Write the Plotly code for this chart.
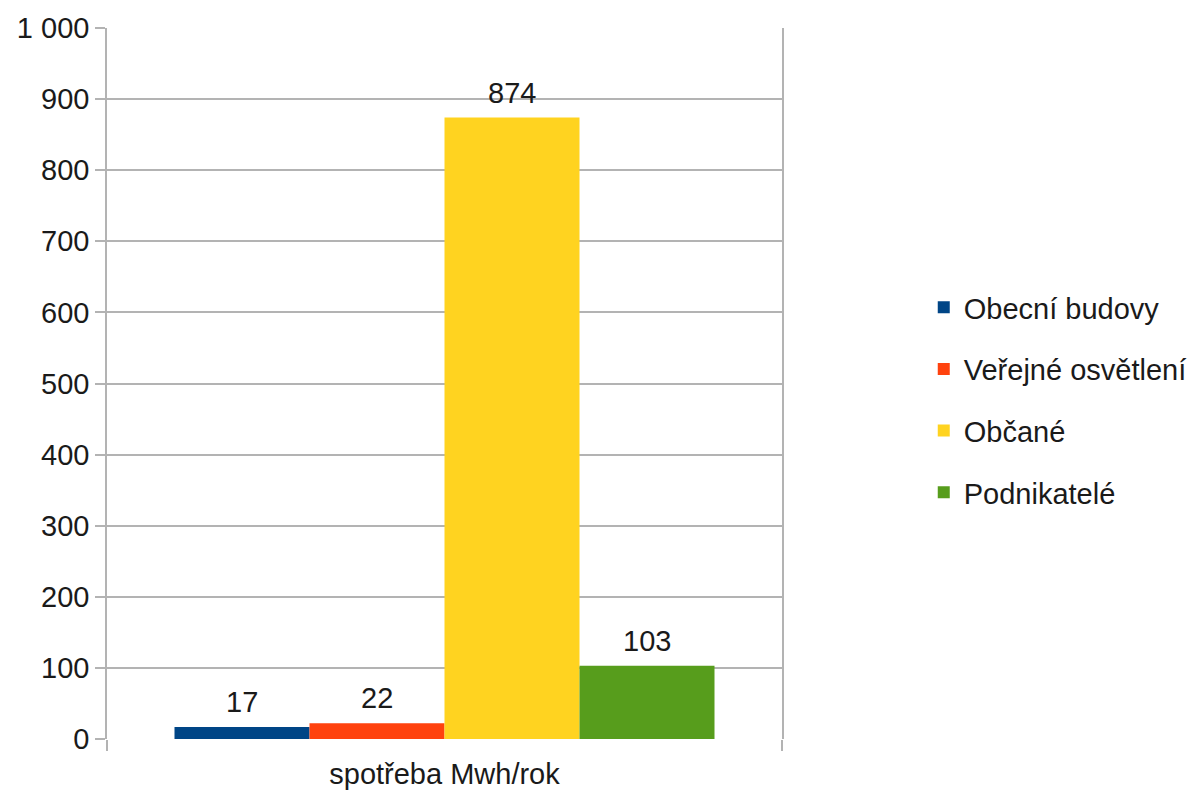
import plotly.graph_objects as go

categories = ["spotřeba Mwh/rok"]
series_names = ["Obecní budovy", "Veřejné osvětlení", "Občané", "Podnikatelé"]
series_values = [[17], [22], [874], [103]]
series_colors = ["#004586", "#ff420e", "#ffd320", "#579d1c"]
y_ticks = [0, 100, 200, 300, 400, 500, 600, 700, 800, 900, 1000]
y_tick_labels = ["0", "100", "200", "300", "400", "500", "600", "700", "800", "900", "1 000"]

FONT = "Liberation Sans, Arial, sans-serif"
TXT = "#1a1a1a"
FS = 29

fig = go.Figure()
n = len(series_names)
bar_w = 0.8 / n
for i, (name, vals, col) in enumerate(zip(series_names, series_values, series_colors)):
    fig.add_trace(go.Bar(
        x=categories, y=vals, name=name, marker_color=col, marker_line_width=0,
        legendgroup=f"g{i}",
    ))
    for ci, v in enumerate(vals):
        fig.add_annotation(
            x=ci - 0.4 + bar_w * (i + 0.5), y=v, xref="x", yref="y",
            text=str(v), showarrow=False, yanchor="bottom", yshift=7,
            font=dict(family=FONT, size=FS, color=TXT),
        )

fig.update_layout(
    width=1197, height=793,
    margin=dict(l=107, r=415, t=28, b=54, autoexpand=False),
    paper_bgcolor="white", plot_bgcolor="white",
    barmode="group", bargap=0.2, bargroupgap=0,
    font=dict(family=FONT, size=FS, color=TXT),
    showlegend=True,
    legend=dict(x=1.21, xanchor="left", y=0.477, yanchor="middle",
                font=dict(family=FONT, size=FS, color=TXT),
                tracegroupgap=21, itemwidth=30),
)
fig.update_xaxes(
    range=[-0.5, 0.5], showgrid=True, gridcolor="#b3b3b3", gridwidth=1.5,
    tickson="boundaries", ticks="outside", ticklen=11, tickcolor="#b3b3b3", tickwidth=1.5,
    showline=False, zeroline=False, ticklabelstandoff=15, automargin=False,
    tickfont=dict(family=FONT, size=FS, color=TXT),
)
fig.update_yaxes(
    range=[0, 1000], tickvals=y_ticks, ticktext=y_tick_labels,
    showgrid=True, gridcolor="#b3b3b3", gridwidth=1.5,
    ticks="outside", ticklen=10, tickcolor="#b3b3b3", tickwidth=1.5,
    showline=True, linecolor="#b3b3b3", linewidth=1.5, mirror=True,
    zeroline=False, automargin=False,
    tickfont=dict(family=FONT, size=FS, color=TXT),
)

fig.write_html("out.html")
